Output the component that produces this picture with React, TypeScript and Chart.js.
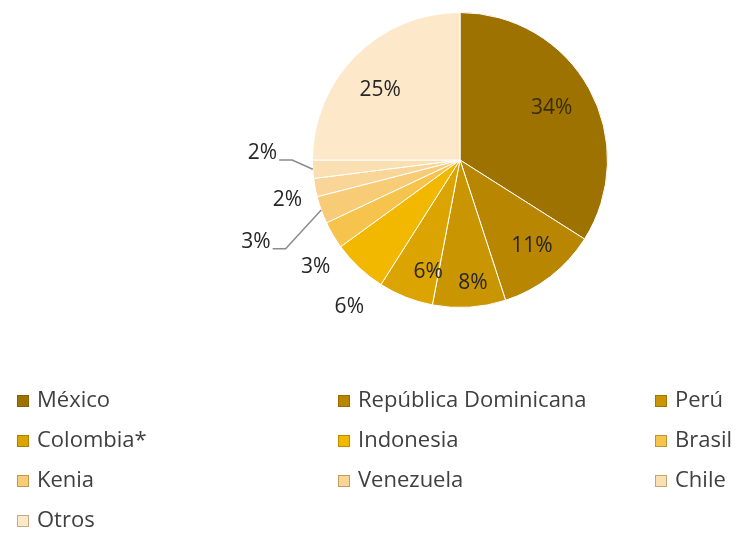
import React, { useEffect, useRef } from "react";
import { Chart, registerables } from "chart.js";

Chart.register(...registerables);

const categories = [
  "México",
  "República Dominicana",
  "Perú",
  "Colombia*",
  "Indonesia",
  "Brasil",
  "Kenia",
  "Venezuela",
  "Chile",
  "Otros",
];
const values = [34, 11, 8, 6, 6, 3, 3, 2, 2, 25];
const colors = [
  "#9E7200",
  "#B88600",
  "#C99500",
  "#DBA400",
  "#F2B800",
  "#F6C34C",
  "#F8CC76",
  "#F9D597",
  "#FADFB3",
  "#FDE8CA",
];
// label placement per slice: radial factor (relative to radius), angle shift (rad), leader line flag
const labelRadius = [0.714, 0.76, 0.836, 0.79, 1.25, 1.22, 1.49, 1.2, 1.34, 0.72];
const labelAngleShift = [-0.012, -0.037, -0.042, -0.1, -0.11, -0.106, -0.035, -0.038, 0.098, -0.066];
const labelLeader = [false, false, false, false, false, false, true, false, true, false];

const FONT = "'Open Sans', 'DejaVu Sans', sans-serif";

const labelsPlugin = {
  id: "sliceLabels",
  afterDatasetsDraw(chart: any) {
    const ctx = chart.ctx;
    const meta = chart.getDatasetMeta(0);
    ctx.save();
    ctx.font = `21px ${FONT}`;
    ctx.textAlign = "center";
    ctx.textBaseline = "middle";
    meta.data.forEach((arc: any, i: number) => {
      const { x, y, startAngle, endAngle, outerRadius } = arc.getProps(
        ["x", "y", "startAngle", "endAngle", "outerRadius"],
        true
      );
      const mid = (startAngle + endAngle) / 2;
      const a = mid + labelAngleShift[i];
      const r = outerRadius * labelRadius[i];
      const lx = x + Math.cos(a) * r;
      const ly = y + Math.sin(a) * r;
      const text = values[i] + "%";
      if (labelLeader[i]) {
        const ex = x + Math.cos(mid) * outerRadius;
        const ey = y + Math.sin(mid) * outerRadius;
        const tw = ctx.measureText(text).width;
        const hx = lx + tw / 2 + 2;
        ctx.strokeStyle = "#8C8C8C";
        ctx.lineWidth = 1.5;
        ctx.beginPath();
        ctx.moveTo(ex, ey);
        ctx.lineTo(hx + 13, ly + 7);
        ctx.lineTo(hx, ly + 7);
        ctx.stroke();
      }
      ctx.fillStyle = i === 0 ? "#3A2E05" : "#262626";
      ctx.fillText(text, lx, ly);
    });
    ctx.restore();
  },
};

const legendPlugin = {
  id: "gridLegend",
  afterDraw(chart: any) {
    const ctx = chart.ctx;
    const colX = [17, 338, 655];
    const rowY0 = 401;
    const rowH = 40;
    ctx.save();
    ctx.font = `22px ${FONT}`;
    ctx.textBaseline = "middle";
    ctx.textAlign = "left";
    categories.forEach((c, i) => {
      const col = i % 3;
      const row = Math.floor(i / 3);
      const bx = colX[col];
      const by = rowY0 + row * rowH;
      ctx.fillStyle = colors[i];
      ctx.fillRect(bx, by - 6, 12, 12);
      ctx.strokeStyle = "rgba(90,60,0,0.35)";
      ctx.lineWidth = 1;
      ctx.strokeRect(bx + 0.5, by - 5.5, 11, 11);
      ctx.fillStyle = "#404040";
      ctx.fillText(c, bx + 20, by);
    });
    ctx.restore();
  },
};

export default function App() {
  const ref = useRef<HTMLCanvasElement | null>(null);
  useEffect(() => {
    document.body.style.margin = "0";
    if (!ref.current) return;
    const chart = new Chart(ref.current, {
      type: "pie",
      data: {
        labels: categories,
        datasets: [
          {
            data: values,
            backgroundColor: colors,
            borderColor: "#FFFFFF",
            borderWidth: 1,
          },
        ],
      },
      options: {
        animation: false,
        responsive: false,
        layout: { padding: { top: 12, bottom: 234, left: 312, right: 130 } },
        plugins: {
          legend: { display: false },
          tooltip: { enabled: false },
        },
      },
      plugins: [labelsPlugin, legendPlugin],
    });
    return () => chart.destroy();
  }, []);
  return (
    <div style={{ width: 738, height: 542, background: "#fff" }}>
      <canvas ref={ref} width={738} height={542} style={{ display: "block" }} />
    </div>
  );
}
